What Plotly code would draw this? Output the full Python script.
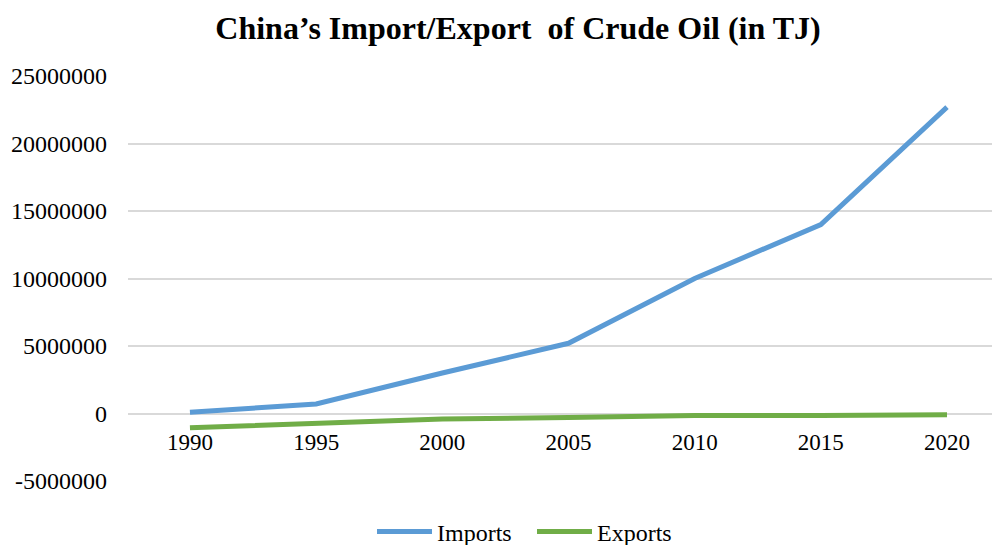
import plotly.graph_objects as go

years = ["1990", "1995", "2000", "2005", "2010", "2015", "2020"]
imports = [100000, 700000, 3000000, 5200000, 10000000, 14000000, 22700000]
exports = [-1050000, -750000, -400000, -300000, -150000, -150000, -100000]
y_ticks = [-5000000, 0, 5000000, 10000000, 15000000, 20000000, 25000000]

FONT = "Liberation Serif"

fig = go.Figure()
fig.add_trace(go.Scatter(x=years, y=imports, name="Imports", mode="lines",
                         line=dict(color="#5B9BD5", width=5)))
fig.add_trace(go.Scatter(x=years, y=exports, name="Exports", mode="lines",
                         line=dict(color="#70AD47", width=5)))

# page body has an 8px offset; figure sized to fit the window
W, H = 992, 537
l, r, t, b = 120, 0, 68, 64
ymin, ymax = -5000000, 25000000
zero_pos = (0 - ymin) / (ymax - ymin)
plot_w = W - l - r
plot_h = H - t - b

fig.update_layout(
    width=W, height=H,
    margin=dict(l=l, r=r, t=t, b=b, autoexpand=False),
    paper_bgcolor="white", plot_bgcolor="white",
    font=dict(family=FONT, size=24, color="black"),
    title=dict(text="<b>China’s Import/Export  of Crude Oil (in TJ)</b>",
               x=510 / W, xanchor="center", y=1 - 20 / H, yanchor="middle",
               font=dict(family=FONT, size=32, color="black")),
    xaxis=dict(type="category", range=[-0.491, 6.42], showgrid=False,
               showline=False, zeroline=False, anchor="free", position=zero_pos,
               ticks="", ticklabelstandoff=12, tickfont=dict(size=23)),
    yaxis=dict(range=[ymin, ymax], tickvals=y_ticks,
               ticktext=[str(v) for v in y_ticks],
               showgrid=True, gridcolor="#D9D9D9", gridwidth=1.5,
               zeroline=False, showline=False, ticks="",
               ticklabelstandoff=20, tickfont=dict(size=24)),
    legend=dict(orientation="h", x=(364 - l) / plot_w, xanchor="left",
                y=(plot_h + t - 524) / plot_h, yanchor="middle",
                font=dict(size=24), itemwidth=55, entrywidth=90,
                entrywidthmode="pixels", tracegroupgap=0),
    showlegend=True,
)

fig.write_html("out.html")
